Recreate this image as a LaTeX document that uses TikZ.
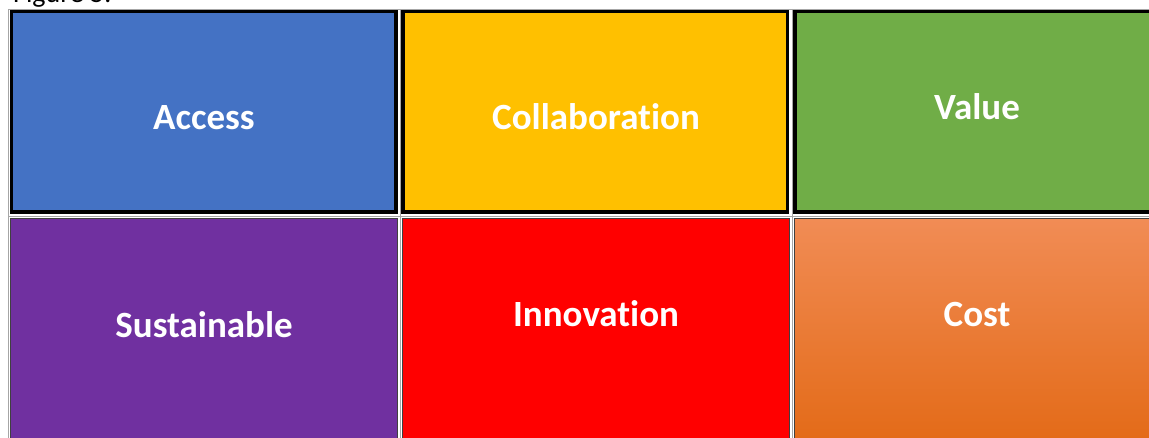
\documentclass[tikz,border=0pt]{standalone}
\usepackage{fontspec}
\setmainfont{Carlito}[Ligatures={NoCommon,NoContextual}]
\usepackage{xcolor}
\usepackage{tikz}
\definecolor{accessblue}{HTML}{4472C4}
\definecolor{collabyellow}{HTML}{FFC000}
\definecolor{valuegreen}{HTML}{70AD47}
\definecolor{sustpurple}{HTML}{7030A0}
\definecolor{innovred}{HTML}{FF0000}
\definecolor{costtop}{HTML}{F18C55}
\definecolor{costmid}{HTML}{F47D2C}
\definecolor{costbot}{HTML}{E36A17}
\definecolor{edge}{HTML}{404040}
\definecolor{gridgray}{HTML}{A6A6A6}
\tikzset{
  topcell/.style={draw=black, line width=3.5pt, inner sep=0pt,
    minimum width=384.5pt, minimum height=200.5pt},
  lowcell/.style={draw=edge, line width=1.2pt, inner sep=0pt,
    minimum width=386.8pt, minimum height=226pt},
  grid/.style={draw=gridgray, line width=0.8pt},
  lab/.style={text=white, font=\fontsize{37}{44}\selectfont\bfseries, anchor=base},
  capt/.style={text=black, font=\fontsize{28}{34}\selectfont, anchor=base west, inner sep=0pt},
}
\begin{document}
\begin{tikzpicture}[x=1pt, y=-1pt]
  \useasboundingbox (0,0) rectangle (1149,438);
  \node[capt] (caption) at (13,3) {Figure 5:};
  % table rules
  \draw[grid] (8.5,9) -- (1149,9);
  \draw[grid] (8.5,216) -- (1149,216);
  \draw[grid] (8.5,9) -- (8.5,438);
  \draw[grid] (400,9) -- (400,438);
  \draw[grid] (792,9) -- (792,438);
  % top row
  \node[topcell, fill=accessblue]   (access) at (203.5,112) {};
  \node[topcell, fill=collabyellow] (collab) at (595,112) {};
  \node[topcell, fill=valuegreen]   (value)  at (987,112) {};
  % bottom row
  \node[lowcell, fill=sustpurple] (sust)  at (204,331.6) {};
  \node[lowcell, fill=innovred]   (innov) at (596,331.6) {};
  \node[lowcell, shading=axis, top color=costtop, middle color=costmid,
        bottom color=costbot] (cost) at (988,331.6) {};
  % labels
  \node[lab] (accesslab) at (204,130) {Access};
  \node[lab] (collablab) at (596,130) {Collaboration};
  \node[lab] (valuelab)  at (977,120) {Value};
  \node[lab] (sustlab)   at (204,338) {Sustainable};
  \node[lab] (innovlab)  at (596,327) {Innovation};
  \node[lab] (costlab)   at (977,327) {Cost};
\end{tikzpicture}
\end{document}
